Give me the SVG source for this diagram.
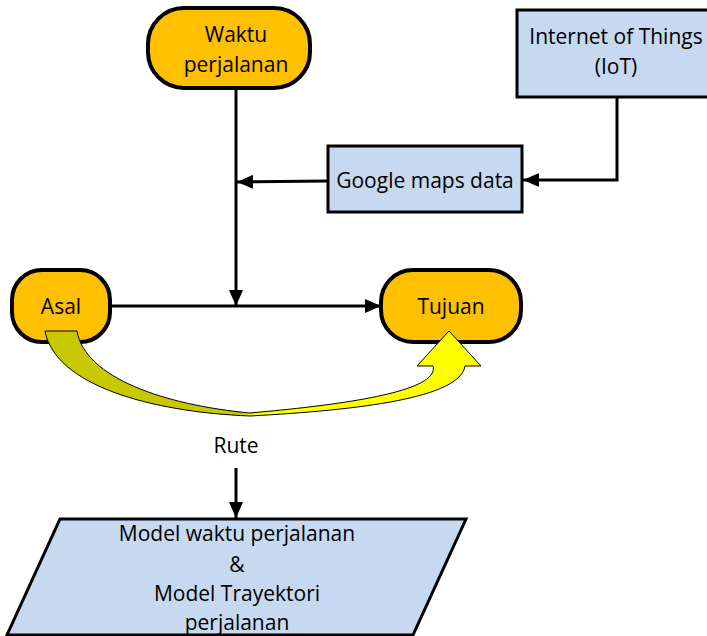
<svg xmlns="http://www.w3.org/2000/svg" width="707" height="636" viewBox="0 0 707 636">
<defs>
<style>
.txt{font-family:"Open Sans","DejaVu Sans",sans-serif;font-size:21px;fill:#000;text-anchor:middle}
.term{fill:#FFC000;stroke:#000;stroke-width:4}
.box{fill:#C6D9F0;stroke:#000;stroke-width:3}
.con{fill:none;stroke:#000;stroke-width:3}
</style>
<marker id="ah" markerUnits="userSpaceOnUse" viewBox="0 0 16 14" markerWidth="16" markerHeight="14" refX="16" refY="7" orient="auto">
<path d="M0,0 L16,7 L0,14 Z" fill="#000"/>
</marker>
<linearGradient id="yg" gradientUnits="userSpaceOnUse" x1="45" y1="0" x2="481" y2="0">
<stop offset="0" stop-color="#C8C800"/>
<stop offset="0.45" stop-color="#C8C800"/>
<stop offset="0.48" stop-color="#FFFF00"/>
<stop offset="1" stop-color="#FFFF00"/>
</linearGradient>
</defs>
<rect width="707" height="636" fill="#fff"/>
<g id="waktu">
<rect class="term" x="148" y="8" width="162" height="80" rx="36"/>
<text class="txt" x="236" y="42">Waktu</text>
<text class="txt" x="236" y="72">perjalanan</text>
</g>
<g id="iot">
<rect class="box" x="517" y="10" width="195" height="87"/>
<text class="txt" x="616" y="44">Internet of Things</text>
<text class="txt" x="616" y="74">(IoT)</text>
</g>
<g id="google">
<rect class="box" x="328" y="146" width="194" height="66"/>
<text class="txt" x="425" y="188">Google maps data</text>
</g>
<g id="asal">
<rect class="term" x="12" y="270" width="98" height="72" rx="30"/>
<text class="txt" x="61" y="314">Asal</text>
</g>
<g id="tujuan">
<rect class="term" x="381" y="270" width="140" height="72" rx="32"/>
<text class="txt" x="451" y="314">Tujuan</text>
</g>
<g id="rute">
<text class="txt" x="236" y="453">Rute</text>
</g>
<g id="model">
<path class="box" d="M60,519 L466,519 L413,635 L7,635 Z"/>
<text class="txt" x="237" y="541">Model waktu perjalanan</text>
<text class="txt" x="237" y="572">&amp;</text>
<text class="txt" x="237" y="601">Model Trayektori</text>
<text class="txt" x="237" y="630">perjalanan</text>
</g>
<g id="connectors">
<path class="con" d="M236,88 L236,306" marker-end="url(#ah)"/>
<path class="con" d="M328,181 L237,182" marker-end="url(#ah)"/>
<path class="con" d="M617,97 L617,180 L523,180" marker-end="url(#ah)"/>
<path class="con" d="M110,306 L381,306" marker-end="url(#ah)"/>
<path class="con" d="M236,468 L236,518" marker-end="url(#ah)"/>
<path id="route-arrow" d="M45,331 L77,331 C85,378 165,405 250,413 C340,405 440,392 433,366 L417,366 L449,331 L481,366 L465,366 C460,398 360,410 250,416 C150,412 55,385 45,331 Z" fill="url(#yg)" stroke="#000" stroke-width="1"/>
</g>
</svg>
